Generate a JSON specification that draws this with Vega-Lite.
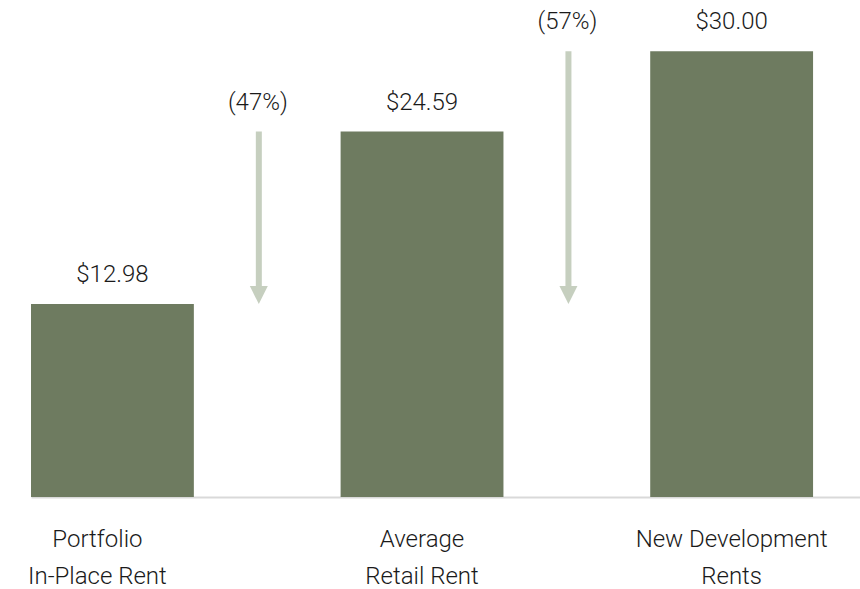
{
  "$schema": "https://vega.github.io/schema/vega-lite/v6.json",
  "width": 829,
  "height": 497,
  "autosize": {"type": "none"},
  "padding": {"left": 31, "top": 0, "right": 0, "bottom": 92},
  "background": "white",
  "config": {
    "view": {"stroke": null},
    "font": "Roboto",
    "text": {"font": "Roboto", "fontWeight": 300}
  },
  "datasets": {
    "rents": [
      {"category": "Portfolio|In-Place Rent", "rent": 12.98},
      {"category": "Average|Retail Rent", "rent": 24.59},
      {"category": "New Development|Rents", "rent": 30.0}
    ],
    "gaps": [
      {"category": "Portfolio|In-Place Rent", "from": 24.59, "to": 12.98, "change": "(47%)"},
      {"category": "Average|Retail Rent", "from": 30.0, "to": 12.98, "change": "(57%)"}
    ]
  },
  "encoding": {
    "x": {
      "field": "category",
      "type": "nominal",
      "scale": {
        "domain": ["Portfolio|In-Place Rent", "Average|Retail Rent", "New Development|Rents"],
        "paddingInner": 0.474,
        "paddingOuter": 0.0758,
        "align": 0
      },
      "axis": {
        "title": null,
        "labelAngle": 0,
        "ticks": false,
        "domainColor": "#d9d9d9",
        "domainWidth": 2,
        "labelExpr": "split(datum.label, '|')",
        "labelFont": "Roboto",
        "labelFontWeight": 300,
        "labelFontSize": 24,
        "labelColor": "#1a1a1a",
        "labelLineHeight": 37,
        "labelPadding": 30,
        "labelOffset": {"condition": {"test": "datum.value == 'Portfolio|In-Place Rent'", "value": -15}, "value": 0},
        "labelLimit": 400
      }
    }
  },
  "layer": [
    {
      "data": {"name": "rents"},
      "mark": {"type": "bar", "color": "#6e7b60"},
      "encoding": {
        "y": {"field": "rent", "type": "quantitative", "scale": {"domain": [0, 33.44], "nice": false, "zero": true}, "axis": null}
      }
    },
    {
      "data": {"name": "rents"},
      "mark": {"type": "text", "baseline": "middle", "dy": -29, "fontSize": 24, "color": "#1a1a1a"},
      "encoding": {
        "y": {"field": "rent", "type": "quantitative"},
        "text": {"field": "rent", "type": "quantitative", "format": "$.2f"}
      }
    },
    {
      "data": {"name": "gaps"},
      "mark": {"type": "rule", "color": "#c6cfbf", "strokeWidth": 6, "strokeCap": "butt", "y2Offset": -16},
      "encoding": {
        "x": {"field": "category", "type": "nominal", "bandPosition": 1.399},
        "y": {"field": "from", "type": "quantitative"},
        "y2": {"field": "to"}
      }
    },
    {
      "data": {"name": "gaps"},
      "mark": {"type": "point", "shape": "M-1,-2L1,-2L0,0Z", "size": 324, "filled": true, "color": "#c6cfbf", "opacity": 1, "strokeWidth": 0},
      "encoding": {
        "x": {"field": "category", "type": "nominal", "bandPosition": 1.399},
        "y": {"field": "to", "type": "quantitative"}
      }
    },
    {
      "data": {"name": "gaps"},
      "mark": {"type": "text", "baseline": "middle", "dy": -29, "fontSize": 24, "color": "#1a1a1a"},
      "encoding": {
        "x": {"field": "category", "type": "nominal", "bandPosition": 1.393},
        "y": {"field": "from", "type": "quantitative"},
        "text": {"field": "change", "type": "nominal"}
      }
    }
  ]
}
